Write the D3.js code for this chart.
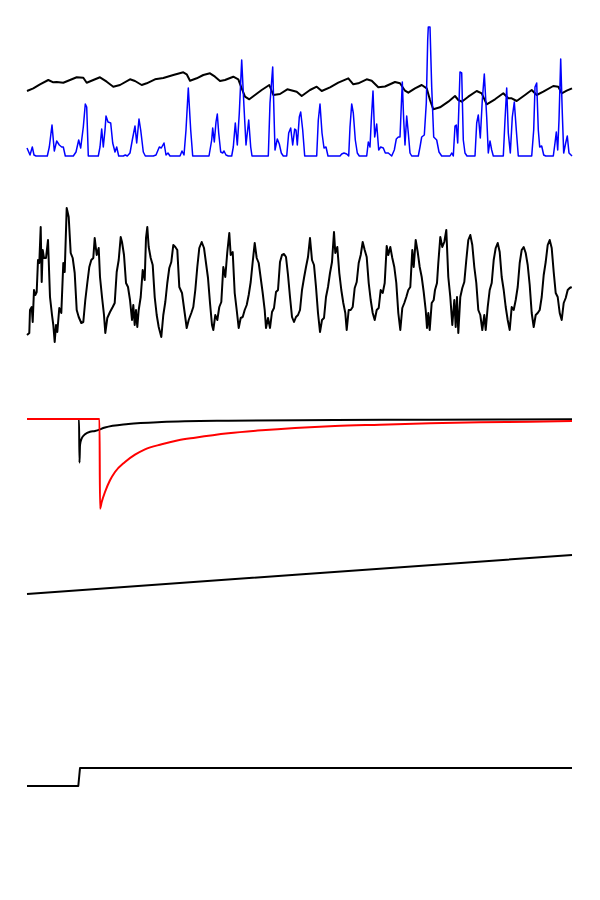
<!DOCTYPE html>
<html>
<head>
<meta charset="utf-8">
<script src="https://cdn.jsdelivr.net/npm/d3@7"></script>
<style>
html,body{margin:0;padding:0;background:#fff;}
svg{display:block;}
</style>
</head>
<body>
<svg id="chart" width="600" height="900"></svg>
<script>
// ---- DATA: [time (samples), value] pairs ----
const timeExtent = [0, 545];

// Panel 1: slow black signal
const p1Black = [[0,65],[6.3,67.7],[13,71.7],[21.3,76],[26.3,73.7],[29.7,74],[36.3,73.3],[43,76],[49.7,78.7],[56.3,78.3],[59.7,73.3],[66.3,76],[73,78.7],[79.7,74.3],[86.3,69.3],[93,71],[103,76.7],[108,75],[114.7,71],[119.7,72.7],[128,76.7],[136.3,78],[146.3,81],[156.3,83.7],[159.7,81.7],[163,75.3],[169.7,77.7],[176.3,81],[183,82.7],[188,79.3],[193,75],[198,76],[206.3,79.3],[211.3,76.7],[214.7,67.7],[218,59.3],[222.3,56.7],[228,61],[234.7,66],[242.3,71],[246.3,61],[253,62],[260.3,66.7],[269.7,64.3],[274.7,60],[283,66],[289.7,69.3],[294.7,65],[303,68.7],[311.3,73.3],[321.3,77.7],[326.3,71.7],[331.3,72.7],[339.7,76.7],[344.7,75.3],[351.3,68.7],[358,69.5],[368,74],[373,72.7],[378,65.3],[381.3,63.3],[388,67.7],[394.7,71],[399.7,67.7],[403,56],[406.3,46.7],[413,48.7],[421.3,54.3],[428,60],[431.3,56],[434.7,54.3],[441.3,59.3],[449.7,65],[454.7,62.7],[459.7,51.7],[468,56.7],[476.3,62.7],[481.3,57.7],[484.7,57.7],[489.7,55],[498,61],[504.7,66],[509.7,61],[516.3,64.3],[526.3,70],[531.3,69.3],[534.7,62.7],[539.7,65.3],[545,67.7]];

// Panel 1: spiky blue signal
const p1Blue = [[0,8],[3,1],[5.3,9],[7,1],[9,0],[20.3,0],[22.3,9],[25,31],[27.3,5],[29.7,15],[32.3,11],[34.7,9],[36.3,9],[38.3,0],[46.3,0],[49,4],[51.7,16],[53.7,8],[56.3,29],[58.3,52],[59.7,49],[61.3,0],[71.3,0],[73,9],[74.7,27],[76.3,9],[78,26],[79,40],[81,34],[83.7,33],[85.7,13],[88,4],[89.7,9],[91.7,0],[96.3,0],[98.3,1],[100.3,0],[103,3],[105.3,16],[108,30],[109.7,13],[112,37],[113.7,26],[116.3,4],[118.3,0],[126.3,0],[129,1],[132.3,9],[134.3,8],[137,13],[139,1],[141,3],[143,0],[153,0],[155,5],[157,1],[159,26],[161.3,68],[163.7,26],[165.7,0],[182,0],[184.7,16],[185.7,28],[187.3,14],[189,34],[190.3,42],[191.7,23],[193.7,4],[195.7,3],[197,5],[199,1],[201.3,0],[204.7,0],[206.3,9],[208.3,33],[210.3,11],[212.3,43],[214.7,96],[217,49],[219,11],[221.7,36],[223.7,9],[225,0],[241.3,0],[243,53],[245.7,89],[248,6],[250.3,17],[252.3,12],[254.3,3],[256.3,0],[259.7,0],[261.7,23],[263.7,28],[265.7,11],[267.7,27],[269,26],[270.3,11],[272.3,39],[273.7,44],[275.7,26],[277.7,0],[289.7,0],[291.3,36],[293,52],[295,23],[297,8],[299,9],[301,0],[313,0],[314.7,2],[317,3],[319.7,2],[321.7,0],[323,29],[324.7,52],[326.3,43],[328.3,16],[330.3,3],[332.3,0],[339.7,0],[341.3,14],[343,9],[344.3,36],[346,65],[347.7,19],[349.7,32],[351.7,6],[353.7,9],[356.3,8],[358.3,3],[361.3,3],[364.7,0],[367.3,6],[369.3,17],[371.3,19],[373,19],[374,43],[375.3,74],[376.7,36],[378,11],[379.7,40],[381.3,23],[383,3],[384.7,0],[391.3,0],[393,9],[394.7,19],[397.3,21],[399.3,53],[400.7,116],[401.3,129],[403,129],[404.7,69],[406.7,19],[409.7,16],[412,4],[414.7,0],[423,0],[424.7,3],[426.3,0],[428,30],[429.3,31],[430.7,13],[432,53],[433,84],[434.7,83],[436.3,16],[438,3],[440,0],[448,0],[449.7,33],[451.3,41],[453.3,18],[455.3,56],[457.3,82],[459.7,39],[461.3,3],[463,15],[464.7,6],[466.3,0],[476.3,0],[478,36],[479.7,68],[481.3,23],[483.3,3],[485.3,39],[487.3,54],[489.3,26],[491.3,0],[504.7,0],[506.7,26],[508,69],[509.7,73],[511.3,26],[512.7,9],[514.7,10],[516.7,1],[518.7,0],[526.3,0],[528,13],[529.3,24],[530.7,6],[532,36],[533.7,97],[535.3,43],[536.7,3],[538.7,13],[540.3,20],[542,3],[544,1],[545,0]];

// Panel 2: oscillating black signal
const p2Black = [[0,15],[2.3,17],[3,40],[4.7,43],[5.7,28],[7,60],[8.3,55],[9.7,58],[11,90],[12.3,87],[13.7,123],[14.7,68],[15.7,100],[17,92],[19,92],[21,110],[23,53],[25,35],[26.3,25],[27.7,8],[29,25],[30.3,18],[32.3,42],[34.3,37],[36.3,87],[37.7,78],[39.7,142],[41.7,133],[43.7,97],[45.7,92],[47.7,77],[49.7,40],[51.7,33],[54.3,27],[56.3,28],[58.3,50],[60.3,67],[62.3,83],[64.3,90],[66.3,92],[67.7,112],[69.7,95],[71.7,102],[73,73],[75,53],[77,35],[78.3,17],[80.3,32],[83,38],[85.7,43],[87.7,47],[89.7,78],[91.7,90],[93.7,113],[95,108],[97,95],[99,67],[101,63],[103,50],[105,30],[106.3,45],[107.7,25],[109,40],[110.3,23],[111.7,40],[113.7,53],[115.7,80],[117.7,70],[119,112],[120.3,123],[121.7,103],[123.7,92],[125.7,85],[127.7,53],[129.7,35],[131.7,23],[134.3,13],[136.3,35],[138.3,48],[140.3,67],[142.3,82],[144.3,88],[146.3,105],[148.3,103],[150.3,100],[152.3,63],[155,57],[157.7,37],[159.7,22],[161.7,30],[164.3,37],[166.3,43],[168.3,60],[170.3,83],[172.3,102],[174.7,108],[177,102],[179,87],[181,72],[183,47],[185,25],[186.3,20],[188.3,35],[190.3,30],[192.3,43],[194.3,48],[196.3,83],[198.3,73],[200.3,98],[202.3,117],[203.7,95],[205.7,98],[207.7,57],[209.7,40],[211.7,22],[213.7,32],[215.7,33],[217.7,40],[219.7,45],[221.7,55],[223.7,68],[225.7,88],[227.7,107],[229.7,92],[231.7,87],[233.7,72],[235.7,57],[237.7,40],[239,22],[241,32],[243,22],[245,38],[247,42],[249,58],[251,60],[253,88],[255,95],[257,96],[259,93],[261,75],[263,53],[265,33],[267,28],[269,33],[271,35],[273,40],[275,60],[277,72],[279,83],[281,93],[283,112],[285,90],[287,85],[289,63],[291,37],[293,18],[295,30],[297,32],[299,53],[301,63],[303,77],[305,88],[307,118],[308.3,97],[310.3,103],[312.3,77],[314.3,60],[316.3,47],[318.3,37],[319.7,20],[321.7,40],[323.7,40],[325.7,43],[327.7,62],[329.7,68],[331.7,87],[333.7,95],[335.7,108],[337.7,100],[339.7,93],[341.7,67],[343.7,50],[345.7,37],[347.7,30],[349.7,40],[351.7,42],[353.7,60],[355.7,57],[357.7,67],[359.7,104],[361.3,95],[363.3,103],[365.3,92],[367.3,83],[369.3,67],[371.3,37],[373.3,20],[375.3,42],[377.3,47],[379.3,53],[381.3,60],[383.3,63],[385.3,100],[386.7,83],[388.7,110],[390.7,98],[392.7,83],[394.7,73],[396.7,58],[398.7,40],[400,22],[401.3,37],[402.7,20],[404.7,47],[406.7,50],[408,60],[410,67],[411.3,87],[413.3,113],[415.3,103],[417.3,108],[419.3,120],[421.3,73],[423.3,53],[425.3,25],[427.3,50],[428.7,23],[430,53],[431.3,17],[433.3,53],[435.3,62],[437.3,68],[439.3,90],[441.3,110],[443.3,115],[445.3,105],[447.3,83],[449.3,67],[451.3,40],[453.3,35],[455.3,20],[457.3,35],[458.7,20],[460.7,43],[462.7,60],[464.7,67],[466.7,90],[468.7,102],[470.7,107],[472.7,98],[474.7,73],[476.7,60],[478.7,43],[480.7,30],[482.7,20],[484.7,43],[486.7,40],[488.7,50],[490.7,63],[492.7,87],[494.7,100],[496.7,103],[498.7,97],[500.7,85],[502.7,65],[504.7,37],[506.7,23],[508.7,35],[510.7,37],[512.7,40],[514.7,53],[516.7,75],[518.7,88],[520.7,105],[522.7,110],[524.7,102],[526.7,78],[528.7,57],[530.7,53],[532.7,37],[534.7,30],[536.7,47],[538.7,52],[540.7,60],[542.7,62],[544.7,63]];

// Panel 3: two transient responses
const p3Black = [[0,0],[52,0],[52.5,-4.37],[53,-2.6],[54.7,-1.93],[58,-1.53],[63,-1.27],[68,-1.2],[78,-0.85],[101.3,-0.5],[134.7,-0.3],[201.3,-0.17],[308,-0.1],[403,-0.07],[545,-0.03]];
const p3Red = [[0,0],[72.5,0],[73,-8.97],[74.7,-8.3],[78,-7.3],[83,-6.13],[88,-5.3],[98,-4.3],[108,-3.57],[118,-3.03],[134.7,-2.53],[151.3,-2.13],[168,-1.87],[201.3,-1.43],[234.7,-1.13],[268,-0.9],[308,-0.7],[353,-0.57],[403,-0.43],[453,-0.33],[503,-0.27],[545,-0.2]];

// Panel 4: ramp
const p4Black = [[0,0],[272,19.5],[545,39]];

// Panel 5: step
const p5Black = [[0,0],[51.3,0],[53,1],[545,1]];

// ---- LAYOUT ----
const xRange = [27, 572];
const panels = [
  {domain:[0,130], range:[156,26], curve:d3.curveLinear, series:[
    {data:p1Black, color:"#000000", width:2},
    {data:p1Blue,  color:"#0000ff", width:1.5}]},
  {domain:[0,150], range:[350,200], curve:d3.curveLinear, series:[
    {data:p2Black, color:"#000000", width:2}]},
  {domain:[-9,0], range:[509,419], curve:d3.curveMonotoneX, series:[
    {data:p3Black, color:"#000000", width:2},
    {data:p3Red,   color:"#ff0000", width:2}]},
  {domain:[0,39], range:[594,555], curve:d3.curveLinear, series:[
    {data:p4Black, color:"#000000", width:2}]},
  {domain:[0,1], range:[786,768], curve:d3.curveLinear, series:[
    {data:p5Black, color:"#000000", width:2}]}
];

const svg = d3.select("#chart");
const x = d3.scaleLinear().domain(timeExtent).range(xRange);

panels.forEach((p, i) => {
  const y = d3.scaleLinear().domain(p.domain).range(p.range);
  const g = svg.append("g").attr("class", "panel panel-" + (i+1));
  const line = d3.line().curve(p.curve).x(d => x(d[0])).y(d => y(d[1]));
  p.series.forEach(s => {
    g.append("path")
      .datum(s.data)
      .attr("d", line)
      .attr("fill", "none")
      .attr("stroke", s.color)
      .attr("stroke-width", s.width)
      .attr("stroke-linejoin", "round")
      .attr("stroke-linecap", "butt");
  });
});
</script>
</body>
</html>
